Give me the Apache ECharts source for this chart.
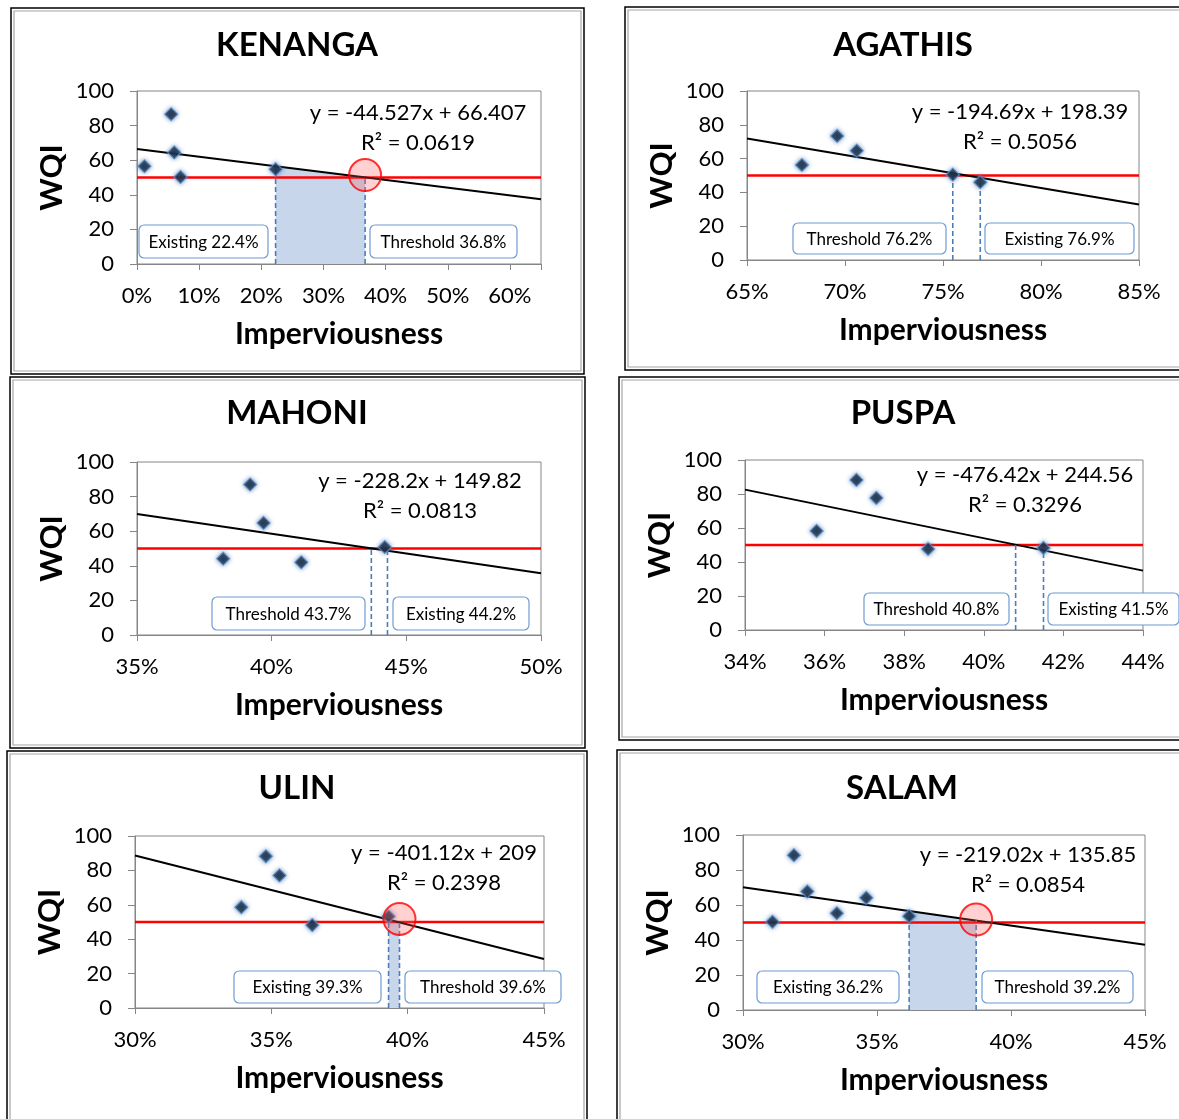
<!DOCTYPE html>
<html><head><meta charset="utf-8">
<script src="https://cdn.jsdelivr.net/npm/echarts@6/dist/echarts.min.js"></script>
<style>html,body{margin:0;padding:0;background:#fff}#c{width:1179px;height:1119px}</style>
</head><body><div id="c"></div>
<script>
// ---------- data ----------
const siteNames = ['KENANGA', 'AGATHIS', 'MAHONI', 'PUSPA', 'ULIN', 'SALAM'];
const xKenanga = [1.2, 5.5, 6.0, 7.0, 22.3];
const yKenanga = [56.5, 86.6, 64.5, 50.3, 54.8];
const xAgathis = [67.8, 69.6, 70.6, 75.5, 76.9];
const yAgathis = [56.2, 73.4, 64.7, 50.5, 46.0];
const xMahoni = [38.2, 39.2, 39.7, 41.1, 44.2];
const yMahoni = [44.1, 87.0, 64.8, 42.0, 50.8];
const xPuspa = [35.8, 36.8, 37.3, 38.6, 41.5];
const yPuspa = [58.3, 88.3, 77.7, 47.7, 48.3];
const xUlin = [33.9, 34.8, 35.3, 36.5, 39.3];
const yUlin = [58.6, 88.2, 77.1, 48.2, 53.2];
const xSalam = [31.1, 31.9, 32.4, 33.5, 34.6, 36.2];
const ySalam = [50.4, 88.5, 67.7, 55.3, 64.1, 53.6];
const slopes = [-44.527, -194.69, -228.2, -476.42, -401.12, -219.02];
const intercepts = [66.407, 198.39, 149.82, 244.56, 209, 135.85];
const rSquared = ['0.0619', '0.5056', '0.0813', '0.3296', '0.2398', '0.0854'];
const existingPct = [22.4, 76.9, 44.2, 41.5, 39.3, 36.2];
const thresholdPct = [36.8, 76.2, 43.7, 40.8, 39.6, 39.2];
const existingLineX = [22.3, 76.9, 44.3, 41.5, 39.3, 36.2];
const thresholdLineX = [36.7, 75.5, 43.7, 40.8, 39.7, 38.7];
const circleY = [51.4, null, null, null, 51.8, 51.7];
const wqiLimit = 50;
const xMin = [0, 65, 35, 34, 30, 30];
const xMax = [65, 85, 50, 44, 45, 45];
const xStep = [10, 5, 5, 2, 5, 5];
const yTicks = [0, 20, 40, 60, 80, 100];

const xs = [xKenanga, xAgathis, xMahoni, xPuspa, xUlin, xSalam];
const ys = [yKenanga, yAgathis, yMahoni, yPuspa, yUlin, ySalam];

// ---------- layout ----------
const layout = [
  {frame: [11, 8, 573, 366], grid: [137, 91, 404, 173], title: [297, 45], eq: [418, 113], boxes: [[139, 225, 129, 33], [370, 225, 147, 33]]},
  {frame: [625, 7, 560, 363], grid: [747, 91, 392, 169], title: [903, 45], eq: [1020, 112], boxes: [[793, 223, 153, 31], [985, 223, 149, 31]]},
  {frame: [10, 377, 575, 371], grid: [137, 462, 404, 173], title: [297, 413], eq: [420, 481], boxes: [[212, 597, 153, 33], [393, 597, 136, 33]]},
  {frame: [619, 377, 566, 363], grid: [745, 460, 398, 170], title: [903, 413], eq: [1025, 475], boxes: [[864, 593, 145, 32], [1048, 593, 131, 32]]},
  {frame: [7, 751, 580, 375], grid: [135, 836, 409, 172], title: [297, 788], eq: [444, 853], boxes: [[234, 971, 147, 32], [405, 971, 156, 32]]},
  {frame: [617, 750, 568, 375], grid: [743, 835, 402, 175], title: [902, 788], eq: [1028, 855], boxes: [[757, 971, 142, 32], [982, 971, 151, 32]]}
];

const FONT = 'Lato, "Open Sans", "Noto Sans", sans-serif';
const AX = '#868686';

const grids = [], xAxes = [], yAxes = [], series = [], titles = [], graphics = [];

function trend(i, x) { return slopes[i] * x / 100 + intercepts[i]; }

layout.forEach((L, i) => {
  const [gl, gt, gw, gh] = L.grid;
  grids.push({left: gl, top: gt, width: gw, height: gh, show: true, borderColor: AX, borderWidth: 1, backgroundColor: 'transparent'});
  const step = xStep[i];
  xAxes.push({
    type: 'value', gridIndex: i, min: xMin[i], max: xMax[i], interval: step,
    axisLine: {show: true, onZero: false, lineStyle: {color: AX, width: 1}},
    axisTick: {show: true, length: 6, lineStyle: {color: AX}},
    splitLine: {show: false},
    axisLabel: {show: true, fontSize: 22, color: '#000', fontFamily: FONT, margin: 21, showMaxLabel: true,
      formatter: v => (Math.abs(v / step - Math.round(v / step)) < 1e-6 ? Math.round(v) + '%' : '')},
    name: 'Imperviousness', nameLocation: 'middle', nameGap: 55,
    nameTextStyle: {fontSize: 30, fontWeight: 'bold', color: '#000', fontFamily: FONT}
  });
  yAxes.push({
    type: 'value', gridIndex: i, min: yTicks[0], max: yTicks[yTicks.length - 1], interval: yTicks[1] - yTicks[0],
    axisLine: {show: true, lineStyle: {color: AX, width: 1}},
    axisTick: {show: true, length: 7, lineStyle: {color: AX}},
    splitLine: {show: false},
    axisLabel: {fontSize: 22, color: '#000', fontFamily: FONT, margin: 23},
    name: 'WQI', nameLocation: 'middle', nameGap: 70, nameRotate: 90,
    nameTextStyle: {fontSize: 31, fontWeight: 'bold', color: '#000', fontFamily: FONT}
  });
  titles.push({text: siteNames[i], left: L.title[0] - 5, top: L.title[1] - 21, textAlign: 'center',
    textStyle: {fontSize: 33, fontWeight: 'bold', color: '#000', fontFamily: FONT}});

  const x0 = xMin[i], x1 = xMax[i];
  const e = existingLineX[i], t = thresholdLineX[i];
  if (circleY[i] !== null) {
    series.push({type: 'line', xAxisIndex: i, yAxisIndex: i, symbol: 'none', z: 1, silent: true,
      data: [[Math.min(e, t), trend(i, Math.min(e, t))], [Math.max(e, t), trend(i, Math.max(e, t))]],
      lineStyle: {width: 0}, areaStyle: {color: '#C7D6EA', opacity: 1}});
  }
  series.push({type: 'line', xAxisIndex: i, yAxisIndex: i, symbol: 'none', z: 2, silent: true,
    data: [[x0, wqiLimit], [x1, wqiLimit]], lineStyle: {color: '#FF0000', width: 2.5}});
  series.push({type: 'line', xAxisIndex: i, yAxisIndex: i, symbol: 'none', z: 3, silent: true,
    data: [[x0, trend(i, x0)], [x1, trend(i, x1)]], lineStyle: {color: '#000', width: 2}});
  [e, t].forEach(v => {
    series.push({type: 'line', xAxisIndex: i, yAxisIndex: i, symbol: 'none', z: 3, silent: true,
      data: [[v, 0], [v, Math.max(trend(i, v), 0)]], lineStyle: {color: '#4A7EBB', width: 1.6, type: [5, 3]}});
  });
  series.push({type: 'scatter', xAxisIndex: i, yAxisIndex: i, z: 4, symbol: 'diamond', symbolSize: 13,
    data: xs[i].map((x, k) => [x, ys[i][k]]),
    itemStyle: {color: '#0E1B2C', borderColor: '#5B8DCB', borderWidth: 1.2, shadowBlur: 4, shadowColor: 'rgba(79,129,189,0.9)'}});
  if (circleY[i] !== null) {
    series.push({type: 'scatter', xAxisIndex: i, yAxisIndex: i, z: 5, symbol: 'circle', symbolSize: 32, silent: true,
      data: [[t, circleY[i]]],
      itemStyle: {color: 'rgba(255,90,90,0.35)', borderColor: '#FF0000', borderWidth: 2}});
  }

  const [fx, fy, fw, fh] = L.frame;
  graphics.push({type: 'rect', z: 0, shape: {x: fx, y: fy, width: fw, height: fh}, style: {fill: null, stroke: '#000', lineWidth: 1.5}});
  graphics.push({type: 'rect', z: 0, shape: {x: fx + 3, y: fy + 3, width: fw - 6, height: fh - 6}, style: {fill: null, stroke: '#A6A6A6', lineWidth: 1.2}});

  graphics.push({type: 'text', z: 50, style: {text: 'y = ' + slopes[i] + 'x + ' + intercepts[i], x: L.eq[0], y: L.eq[1],
    align: 'center', verticalAlign: 'middle', fontSize: 22, fontFamily: FONT, fill: '#000'}});
  graphics.push({type: 'text', z: 50, style: {text: 'R² = ' + rSquared[i], x: L.eq[0], y: L.eq[1] + 30,
    align: 'center', verticalAlign: 'middle', fontSize: 22, fontFamily: FONT, fill: '#000'}});

  const exTxt = 'Existing ' + existingPct[i].toFixed(1) + '%';
  const thTxt = 'Threshold ' + thresholdPct[i].toFixed(1) + '%';
  const texts = e <= t ? [exTxt, thTxt] : [thTxt, exTxt];
  L.boxes.forEach((b, k) => {
    graphics.push({type: 'rect', z: 60, shape: {x: b[0], y: b[1], width: b[2], height: b[3], r: 5},
      style: {fill: '#fff', stroke: '#6F9BD3', lineWidth: 1.2}});
    graphics.push({type: 'text', z: 61, style: {text: texts[k], x: b[0] + b[2] / 2, y: b[1] + b[3] / 2 + 1,
      align: 'center', verticalAlign: 'middle', fontSize: 17, fontFamily: FONT, fill: '#000'}});
  });
});

const chart = echarts.init(document.getElementById('c'), null, {renderer: 'canvas'});
chart.setOption({
  backgroundColor: '#fff',
  animation: false,
  title: titles,
  grid: grids,
  xAxis: xAxes,
  yAxis: yAxes,
  series: series,
  graphic: graphics
});
</script>
</body></html>
